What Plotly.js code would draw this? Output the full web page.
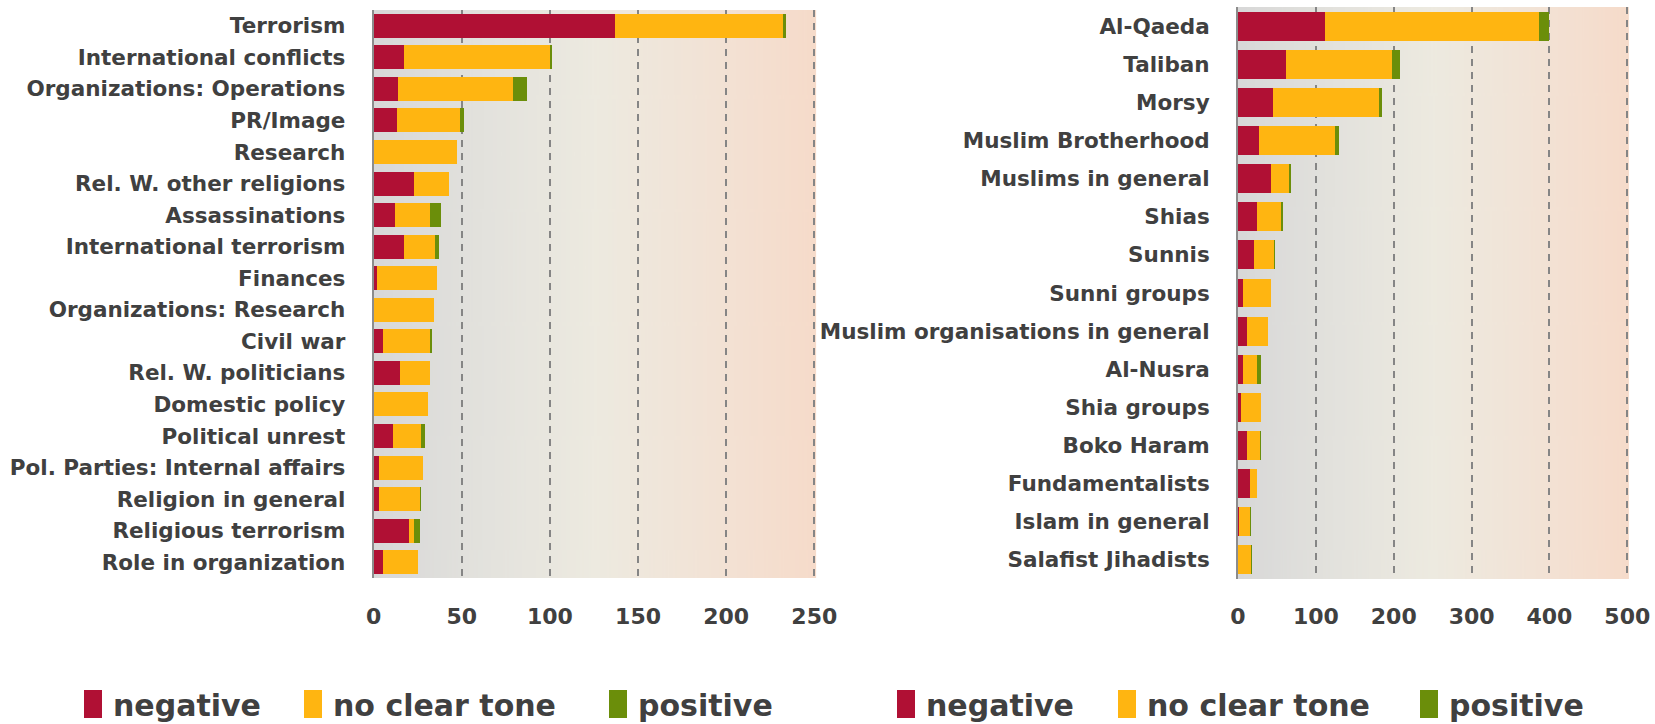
<!DOCTYPE html>
<html>
<head>
<meta charset="utf-8">
<script src="https://cdn.plot.ly/plotly-3.0.1.min.js"></script>
<style>html,body{margin:0;padding:0;background:#fff;}#chart{width:1655px;height:724px;}</style>
</head>
<body>
<div id="chart"></div>
<script>
// ---- data ----
const leftCategories = ["Terrorism","International conflicts","Organizations: Operations","PR/Image","Research","Rel. W. other religions","Assassinations","International terrorism","Finances","Organizations: Research","Civil war","Rel. W. politicians","Domestic policy","Political unrest","Pol. Parties: Internal affairs","Religion in general","Religious terrorism","Role in organization"];
const leftNegative    = [137,17,14,13,0,23,12,17,2,0,5,15,0,11,3,3,20,5];
const leftNoClearTone = [95,83,65,36,47,20,20,18,34,34,27,17,31,16,25,23,3,20];
const leftPositive    = [2,1,8,2,0,0,6,2,0,0,1,0,0,2,0,1,3,0];

const rightCategories = ["Al-Qaeda","Taliban","Morsy","Muslim Brotherhood","Muslims in general","Shias","Sunnis","Sunni groups","Muslim organisations in general","Al-Nusra","Shia groups","Boko Haram","Fundamentalists","Islam in general","Salafist Jihadists"];
const rightNegative    = [112,62,45,27,43,25,21,6,12,6,4,12,15,1,0];
const rightNoClearTone = [274,136,136,97,22,30,25,36,26,19,25,16,9,15,17];
const rightPositive    = [13,10,4,6,3,3,2,0,1,5,0,1,0,1,1];

const leftTicks = [0,50,100,150,200,250];
const rightTicks = [0,100,200,300,400,500];
const seriesNames = ["negative","no clear tone","positive"];

// ---- style ----
const colors = ["#b01034","#ffb511","#6b8e0a"];
const txt = "#404040";
const FONT = "DejaVu Sans";

function gradientURL(){
  const c = document.createElement('canvas');
  c.width = 400; c.height = 10;
  const g = c.getContext('2d');
  const lg = g.createLinearGradient(0,0,400,0);
  lg.addColorStop(0.0,'#d8d8d8');
  lg.addColorStop(0.25,'#e3e2dd');
  lg.addColorStop(0.5,'#edeae0');
  lg.addColorStop(0.75,'#f2e3d6');
  lg.addColorStop(1.0,'#f6dbca');
  g.fillStyle = lg; g.fillRect(0,0,400,10);
  return c.toDataURL('image/png');
}
const bg = gradientURL();

function tr(cats, vals, i, xa, ya, leg){
  return {type:'bar', orientation:'h', y:cats, x:vals, name:seriesNames[i],
    xaxis:xa, yaxis:ya, legend:leg,
    marker:{color:colors[i], line:{width:0}}, hoverinfo:'x+y+name'};
}
const data = [
  tr(leftCategories, leftNegative, 0, 'x','y','legend'),
  tr(leftCategories, leftNoClearTone, 1, 'x','y','legend2'),
  tr(leftCategories, leftPositive, 2, 'x','y','legend3'),
  tr(rightCategories, rightNegative, 0, 'x2','y2','legend4'),
  tr(rightCategories, rightNoClearTone, 1, 'x2','y2','legend5'),
  tr(rightCategories, rightPositive, 2, 'x2','y2','legend6')
];

const W = 1655, H = 724;
const xTickFont = {family:FONT, size:22, color:txt, weight:'bold'};
const yTickFont = {family:FONT, size:21.5, color:txt, weight:'bold'};
function xax(domain, range, ticks){
  return {domain:domain, range:range, tickvals:ticks, ticktext:ticks.map(String), showgrid:true,
    gridcolor:'#858585', gridwidth:2, griddash:'7px,6px', zeroline:false, showline:false,
    ticks:'', ticklabelstandoff:23, tickfont:xTickFont, fixedrange:true};
}
function yax(domain, anchor){
  return {domain:domain, anchor:anchor, autorange:'reversed', type:'category', showgrid:false,
    zeroline:false, showline:true, linecolor:'#8c8c8c', linewidth:2, ticks:'',
    ticklabelstandoff:22, tickfont:yTickFont, fixedrange:true};
}
function leg(xpx){
  return {x:xpx/W, xanchor:'left', y:1-704/H, yanchor:'middle', orientation:'h',
    font:{family:FONT, size:30, color:txt, weight:'bold'}, bgcolor:'rgba(0,0,0,0)', borderwidth:0};
}
const layout = {
  width:W, height:H, margin:{l:0,r:0,t:0,b:0, autoexpand:false},
  paper_bgcolor:'#ffffff', plot_bgcolor:'rgba(0,0,0,0)',
  barmode:'stack', bargap:0.24, showlegend:true,
  font:{family:FONT, color:txt},
  xaxis: xax([373.7/W, 816.1/W], [0,251], leftTicks),
  yaxis: yax([1-578/H, 1-10/H], 'x'),
  xaxis2: xax([1238/W, 1628.9/W], [0,502], rightTicks),
  yaxis2: yax([1-579/H, 1-7/H], 'x2'),
  legend: leg(73), legend2: leg(293), legend3: leg(598),
  legend4: leg(886), legend5: leg(1107), legend6: leg(1409),
  images:[
    {source:bg, xref:'x domain', yref:'y domain', x:0, y:1, sizex:1, sizey:1, sizing:'stretch', layer:'below', xanchor:'left', yanchor:'top'},
    {source:bg, xref:'x2 domain', yref:'y2 domain', x:0, y:1, sizex:1, sizey:1, sizing:'stretch', layer:'below', xanchor:'left', yanchor:'top'}
  ]
};
Plotly.newPlot('chart', data, layout, {displayModeBar:false, staticPlot:true}).then(function(){
  document.querySelectorAll('.legendpoints path').forEach(function(p){
    p.setAttribute('d','M9,14H-9V-14H9Z');
  });
});
</script>
</body>
</html>
